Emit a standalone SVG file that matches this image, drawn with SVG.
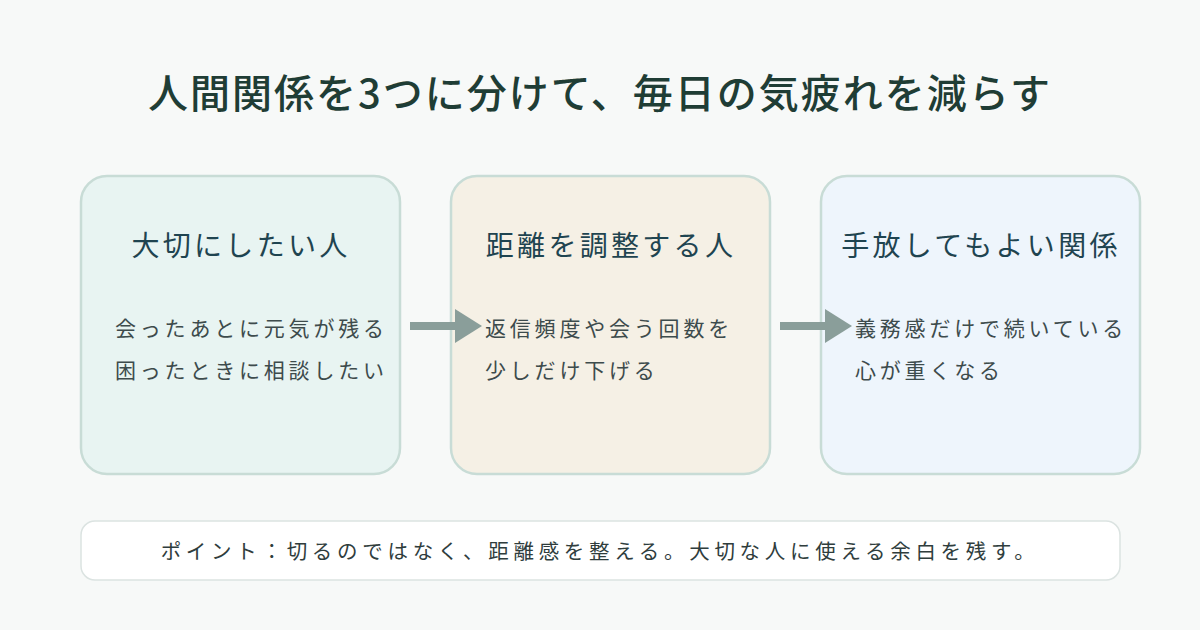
<svg xmlns="http://www.w3.org/2000/svg" width="1200" height="630" viewBox="0 0 1200 630">
<defs>
<style>
.t{font-family:"Noto Sans CJK JP","Noto Sans",sans-serif}
.title{font-size:40px;font-weight:500;fill:#1f3d35;letter-spacing:2px}
.card{stroke:#c8dcd6;stroke-width:2.5}
.head{font-size:28px;fill:#1f4450;letter-spacing:3.3px}
.body{font-size:21px;fill:#3d4b4c;letter-spacing:3.8px}
.note{font-size:20.5px;fill:#2f3d3d;letter-spacing:4.7px}
.conn{stroke:#8a9e9a;stroke-width:8}
</style>
<marker id="ah" markerUnits="userSpaceOnUse" markerWidth="28" markerHeight="34" refX="0" refY="17" orient="auto"><path d="M0,0 L27,17 L0,34 Z" fill="#8a9e9a"/></marker>
</defs>
<rect width="1200" height="630" fill="#f7f9f8"/>
<text class="t title" x="600" y="108" text-anchor="middle">人間関係を3つに分けて、毎日の気疲れを減らす</text>
<g id="node1">
<rect class="card" x="81" y="176" width="319" height="298" rx="26" fill="#e8f4f2"/>
<text class="t head" x="241" y="256" text-anchor="middle">大切にしたい人</text>
<text class="t body" x="115" y="336">会ったあとに元気が残る</text>
<text class="t body" x="115" y="378">困ったときに相談したい</text>
</g>
<g id="node2">
<rect class="card" x="451" y="176" width="319" height="298" rx="26" fill="#f5f0e5"/>
<text class="t head" x="611" y="256" text-anchor="middle">距離を調整する人</text>
<text class="t body" x="485" y="336">返信頻度や会う回数を</text>
<text class="t body" x="485" y="378">少しだけ下げる</text>
</g>
<g id="node3">
<rect class="card" x="821" y="176" width="319" height="298" rx="26" fill="#eef5fc"/>
<text class="t head" x="981" y="256" text-anchor="middle">手放してもよい関係</text>
<text class="t body" x="855" y="336">義務感だけで続いている</text>
<text class="t body" x="855" y="378">心が重くなる</text>
</g>
<g id="connectors">
<line class="conn" x1="410" y1="326" x2="455" y2="326" marker-end="url(#ah)"/>
<line class="conn" x1="780" y1="326" x2="825" y2="326" marker-end="url(#ah)"/>
</g>
<g id="note">
<rect x="81" y="521" width="1039" height="59" rx="14" fill="#ffffff" stroke="#dbe3e1" stroke-width="1.5"/>
<text class="t note" x="600" y="559" text-anchor="middle">ポイント：切るのではなく、距離感を整える。大切な人に使える余白を残す。</text>
</g>
</svg>
